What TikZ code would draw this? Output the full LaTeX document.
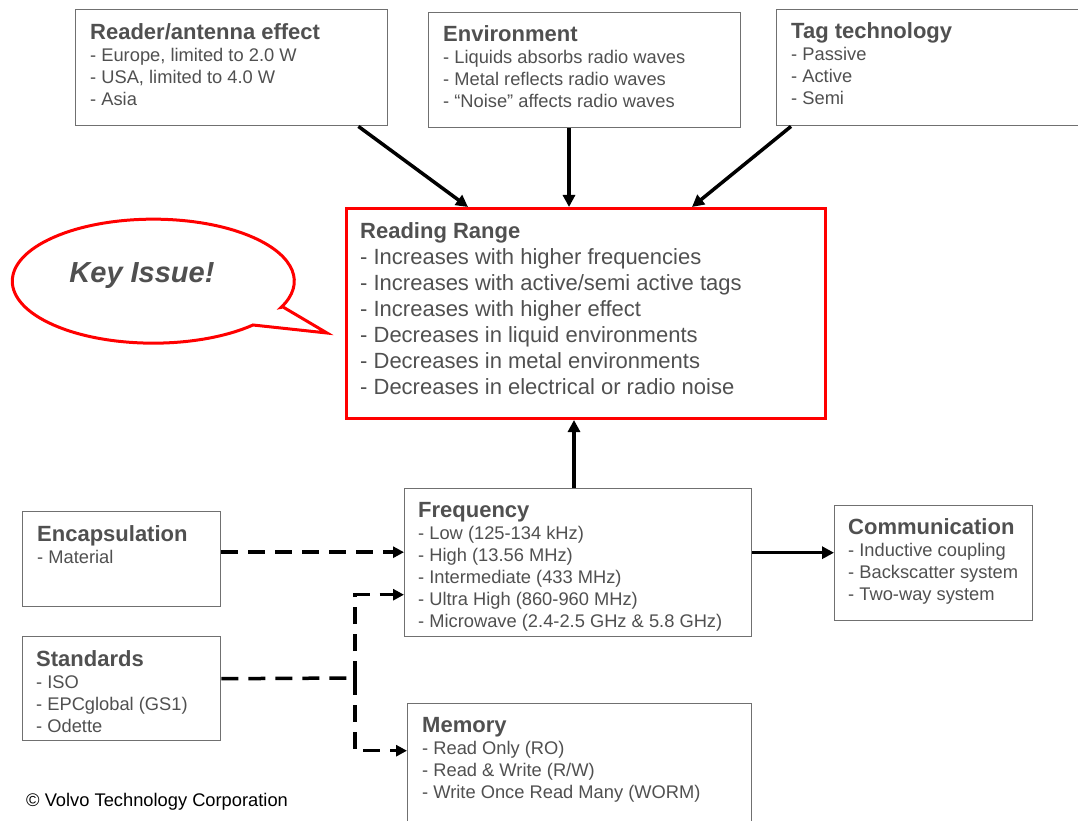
\documentclass[tikz,border=0pt]{standalone}
\usepackage{fontspec}
\setmainfont{Liberation Sans}
\usetikzlibrary{arrows.meta}
\definecolor{boxgray}{HTML}{707070}
\definecolor{textgray}{HTML}{505050}
\newcommand{\bxtitle}[1]{{\fontsize{22}{22}\selectfont\bfseries #1}}
\tikzset{
  box/.style={draw=boxgray, line width=1.4pt, fill=white, anchor=north west, inner sep=0pt},
  boxtext/.style={anchor=north west, inner sep=0pt, align=left, text=textgray, font=\fontsize{18.3}{22}\selectfont},
  rangebox/.style={draw=red, line width=3pt, anchor=north west, inner sep=0pt},
  rangetext/.style={anchor=north west, inner sep=0pt, align=left, text=textgray, font=\fontsize{22}{26}\selectfont},
  solidarrow/.style={-{Triangle[length=12pt,width=12pt]}, line width=3.5pt},
  dashline/.style={line width=3.5pt, dash pattern=on 17pt off 10pt},
  dasharrow/.style={dashline, -{Triangle[length=11pt,width=11pt]}},
}

\begin{document}
\begin{tikzpicture}[x=1pt, y=-1pt]
    \useasboundingbox (0,0) rectangle (1078,821);
    % top boxes
    \node[box, minimum width=312, minimum height=116] (reader) at (75,9) {};
    \node[boxtext] (readertext) at ([shift={(15,14)}]reader.north west)
      {\bxtitle{Reader/antenna effect}\\- Europe, limited to 2.0 W\\- USA, limited to 4.0 W\\- Asia};
    \node[box, minimum width=312, minimum height=115] (env) at (428,12) {};
    \node[boxtext] (envtext) at ([shift={(15,13)}]env.north west)
      {\bxtitle{Environment}\\- Liquids absorbs radio waves\\- Metal reflects radio waves\\- “Noise” affects radio waves};
    \node[box, minimum width=314, minimum height=116] (tag) at (776,9) {};
    \node[boxtext] (tagtext) at ([shift={(15,13)}]tag.north west)
      {\bxtitle{Tag technology}\\- Passive\\- Active\\- Semi};
    % reading range
    \node[rangebox, minimum width=479, minimum height=210] (reading) at (345,207) {};
    \node[rangetext] (readingtext) at ([shift={(15,15)}]reading.north west)
      {\textbf{Reading Range}\\- Increases with higher frequencies\\- Increases with active/semi active tags\\- Increases with higher effect\\- Decreases in liquid environments\\- Decreases in metal environments\\- Decreases in electrical or radio noise};
    % callout
    \draw[red, line width=3pt, fill=white] (283,307) -- (327,333) -- (253,325)
      arc[start angle=45, end angle=385, x radius=141, y radius=62] -- cycle;
    \node[text=textgray, font=\fontsize{29}{29}\selectfont\bfseries\itshape] (keyissue) at (142,276) {Key Issue!};
    % lower boxes
    \node[box, minimum width=347, minimum height=148] (freq) at (404,488) {};
    \node[boxtext] (freqtext) at ([shift={(14,14)}]freq.north west)
      {\bxtitle{Frequency}\\- Low (125-134 kHz)\\- High (13.56 MHz)\\- Intermediate (433 MHz)\\- Ultra High (860-960 MHz)\\- Microwave (2.4-2.5 GHz \& 5.8 GHz)};
    \node[box, minimum width=198, minimum height=115] (comm) at (834,505) {};
    \node[boxtext] (commtext) at ([shift={(14,13)}]comm.north west)
      {\bxtitle{Communication}\\- Inductive coupling\\- Backscatter system\\- Two-way system};
    \node[box, minimum width=198, minimum height=95] (encap) at (22,511) {};
    \node[boxtext] (encaptext) at ([shift={(15,14)}]encap.north west)
      {\bxtitle{Encapsulation}\\- Material};
    \node[box, minimum width=198, minimum height=104] (std) at (22,636) {};
    \node[boxtext] (stdtext) at ([shift={(14,14)}]std.north west)
      {\bxtitle{Standards}\\- ISO\\- EPCglobal (GS1)\\- Odette};
    \node[box, minimum width=344, minimum height=130] (mem) at (407,703) {};
    \node[boxtext] (memtext) at ([shift={(15,14)}]mem.north west)
      {\bxtitle{Memory}\\- Read Only (RO)\\- Read \& Write (R/W)\\- Write Once Read Many (WORM)};
    \node[anchor=base west, inner sep=0pt, font=\fontsize{18.3}{22}\selectfont] (copyright) at (26,806) {© Volvo Technology Corporation};
    % arrows
    \draw[solidarrow] ([xshift=-30]reader.south east) -- ([xshift=123]reading.north west);
    \draw[solidarrow] ([xshift=141]env.south west) -- ([xshift=224]reading.north west);
    \draw[solidarrow] ([xshift=15]tag.south west) -- ([xshift=347]reading.north west);
    \draw[solidarrow] ([xshift=170]freq.north west) -- ([xshift=229]reading.south west);
    \draw[solidarrow] ([yshift=10]freq.east) -- ([yshift=10]freq.east -| comm.west);
    % dashed links
    \coordinate (split) at (355,678);
    \draw[dasharrow] ([yshift=7]encap.east) -- ([yshift=7]encap.east -| freq.west);
    \draw[dashline] ([yshift=10]std.east) -- (split);
    \draw[dasharrow] (split) |- ([yshift=-32]freq.west);
    \draw[dasharrow] (split) |- ([yshift=18]mem.west);
\end{tikzpicture}
\end{document}
